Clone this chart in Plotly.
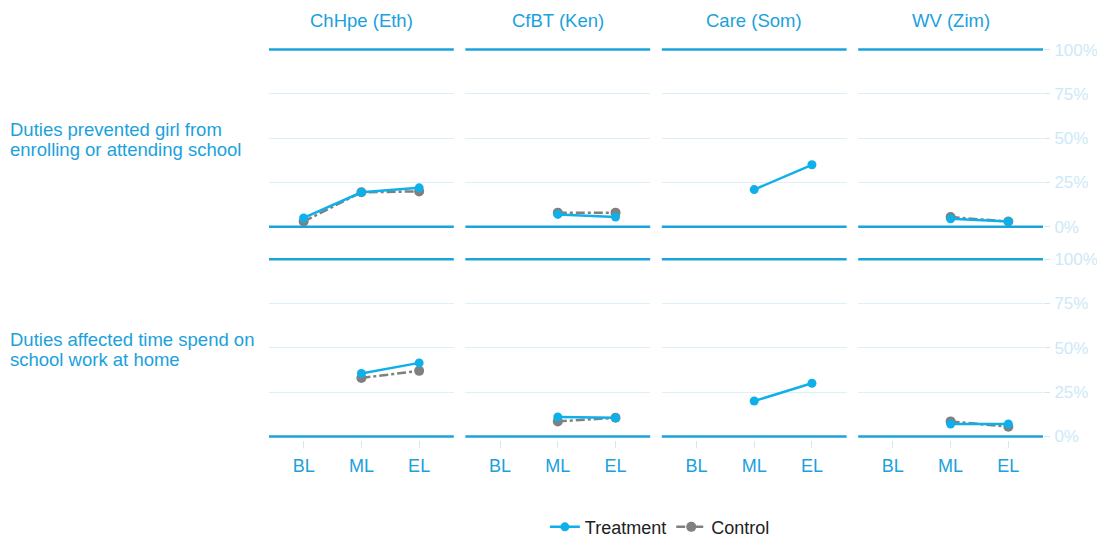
import plotly.graph_objects as go
from plotly.subplots import make_subplots

rounds = ["BL", "ML", "EL"]
projects = ["ChHpe (Eth)", "CfBT (Ken)", "Care (Som)", "WV (Zim)"]
questions = [["Duties prevented girl from", "enrolling or attending school"],
             ["Duties affected time spend on", "school work at home"]]
pct_ticks = [0, 25, 50, 75, 100]
pct_labels = ["0%", "25%", "50%", "75%", "100%"]

# share of girls (%) per project, BL/ML/EL ; None = not measured
treat_prevented = [[5, 19.5, 22], [None, 7, 5.5], [None, 21, 35], [None, 4.5, 3]]
ctrl_prevented = [[3, 19.5, 20], [None, 8, 8], [None, None, None], [None, 5.5, 3]]
treat_time = [[None, 35.5, 41.5], [None, 11, 10.5], [None, 20, 30], [None, 7, 7]]
ctrl_time = [[None, 33, 37], [None, 8.5, 10.5], [None, None, None], [None, 8.5, 5.5]]

BLUE = "#0fb0ea"
GREY = "#808080"
LIGHT = "#cde9f7"
TXT = "#1ba1dc"


def ax(name, i):
    return name if i == 1 else f"{name}{i}"


fig = make_subplots(rows=2, cols=4, horizontal_spacing=0.015, vertical_spacing=0.064)

rows = [(treat_prevented, ctrl_prevented), (treat_time, ctrl_time)]
for r, (tr, ct) in enumerate(rows, start=1):
    for c in range(4):
        fig.add_trace(go.Scatter(
            x=rounds, y=ct[c], name="Control", mode="lines+markers",
            line=dict(color=GREY, width=2.5, dash="dashdot"),
            marker=dict(color=GREY, size=10), legendgroup="c",
            showlegend=(r == 1 and c == 0), connectgaps=False, cliponaxis=False),
            row=r, col=c + 1)
        fig.add_trace(go.Scatter(
            x=rounds, y=tr[c], name="Treatment", mode="lines+markers",
            line=dict(color=BLUE, width=2.5),
            marker=dict(color=BLUE, size=9), legendgroup="t",
            showlegend=(r == 1 and c == 0), connectgaps=False, cliponaxis=False),
            row=r, col=c + 1)
        for yv in (0, 100):
            fig.add_hline(y=yv, line_color="#1aa3dc", line_width=2.5, row=r, col=c + 1)

fig.update_xaxes(type="category", categoryorder="array", categoryarray=rounds,
                 range=[-0.6, 2.6], showgrid=False, zeroline=False,
                 ticks="outside", ticklen=7, tickcolor=LIGHT, ticklabelstandoff=2,
                 tickfont=dict(color=TXT, size=18), showline=False, automargin=False)
fig.update_xaxes(showticklabels=False, ticks="", row=1)
fig.update_yaxes(range=[-2, 102], tickvals=pct_ticks, ticktext=pct_labels,
                 gridcolor="#dcf0fa", gridwidth=1, zeroline=False,
                 showticklabels=False, showline=False, automargin=False)
fig.update_yaxes(side="right", showticklabels=True, ticks="outside", ticklen=6,
                 ticklabelstandoff=1,
                 tickcolor=LIGHT, tickfont=dict(color=LIGHT, size=17), col=4)

for c, p in enumerate(projects):
    fig.add_annotation(text=p, xref=ax("x", c + 1) + " domain", yref="paper", x=0.5, y=1,
                       yshift=26, yanchor="middle", showarrow=False,
                       font=dict(color=TXT, size=18.5))
for r, q in enumerate(questions):
    for k, line in enumerate(q):
        fig.add_annotation(text=line, xref="paper", yref=ax("y", r * 4 + 1) + " domain",
                           x=0, xshift=-261, xanchor="left", y=0.5,
                           yshift=8.5 - 20 * k, yanchor="middle", align="left",
                           showarrow=False, font=dict(color=TXT, size=18.5))

fig.update_layout(
    width=1105, height=538, margin=dict(l=261, r=70, t=38, b=106),
    plot_bgcolor="white", paper_bgcolor="white",
    font=dict(family="Liberation Sans, Arial, sans-serif"),
    legend=dict(orientation="h", x=0.505, xanchor="center", yref="container",
                y=0.035, yanchor="middle",
                font=dict(color="#222222", size=18), traceorder="reversed"),
)

fig.write_html("out.html")
